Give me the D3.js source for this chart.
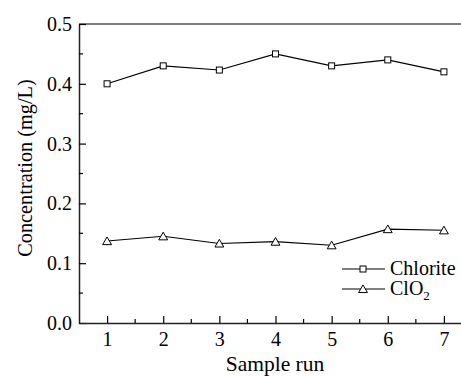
<!DOCTYPE html>
<html>
<head>
<meta charset="utf-8">
<script src="https://cdn.jsdelivr.net/npm/d3@7"></script>
<style>
  body { margin: 0; background: #fff; }
  svg, svg text { font-family: "Liberation Serif", "Times New Roman", Times, "DejaVu Serif", serif !important; }
</style>
</head>
<body>
<div id="chart"></div>
<script>
const runs = [1, 2, 3, 4, 5, 6, 7];
const chlorite = [0.400, 0.430, 0.423, 0.450, 0.430, 0.440, 0.420];
const clo2 = [0.137, 0.145, 0.133, 0.136, 0.130, 0.157, 0.155];
const yTicks = [0.0, 0.1, 0.2, 0.3, 0.4, 0.5];
const yMinor = [0.05, 0.15, 0.25, 0.35, 0.45];
const xMinor = [1.5, 2.5, 3.5, 4.5, 5.5, 6.5];

const width = 461, height = 376;
const margin = { left: 79, top: 24, bottom: 53 };
const plotRight = 472; // the plot runs past the cropped right edge

const svg = d3.select("#chart")
    .append("svg")
    .attr("width", width)
    .attr("height", height);

const x = d3.scaleLinear().domain([0.5, 7.5]).range([margin.left, plotRight]);
const y = d3.scaleLinear().domain([0, 0.5]).range([height - margin.bottom, margin.top]);

const fs = 20;

// top frame line
svg.append("line")
    .attr("x1", x(0.5)).attr("x2", x(7.5))
    .attr("y1", y(0.5)).attr("y2", y(0.5))
    .attr("stroke", "#000").attr("stroke-width", 1.2);

// y axis (ticks inward)
const yAxis = svg.append("g")
    .attr("transform", `translate(${x(0.5)},0)`)
    .call(d3.axisLeft(y).tickValues(yTicks).tickFormat(d3.format(".1f")).tickSizeInner(-7).tickSizeOuter(0).tickPadding(7));
yAxis.attr("font-family", null);
yAxis.selectAll(".tick text").attr("font-size", fs).attr("fill", "#000");
yAxis.select(".domain").attr("stroke", "#222").attr("stroke-width", 1.5);
yAxis.selectAll(".tick line").attr("stroke-width", 1.2);
yAxis.selectAll(".minor")
    .data(yMinor)
    .join("line")
    .attr("x1", 0).attr("x2", 4)
    .attr("y1", d => y(d)).attr("y2", d => y(d))
    .attr("stroke", "#000").attr("stroke-width", 1.2);

// x axis (ticks inward)
const xAxis = svg.append("g")
    .attr("transform", `translate(0,${y(0)})`)
    .call(d3.axisBottom(x).tickValues(runs).tickFormat(d3.format("d")).tickSizeInner(-7).tickSizeOuter(0).tickPadding(9));
xAxis.attr("font-family", null);
xAxis.selectAll(".tick text").attr("font-size", fs).attr("fill", "#000");
xAxis.select(".domain").attr("stroke", "#222").attr("stroke-width", 1.5);
xAxis.selectAll(".tick line").attr("stroke-width", 1.2);
xAxis.selectAll(".minor")
    .data(xMinor)
    .join("line")
    .attr("x1", d => x(d)).attr("x2", d => x(d))
    .attr("y1", 0).attr("y2", -4)
    .attr("stroke", "#000").attr("stroke-width", 1.2);

// axis titles
svg.append("text")
    .attr("x", 275).attr("y", 371)
    .attr("text-anchor", "middle")
    .attr("font-size", 21.5)
    .text("Sample run");

svg.append("text")
    .attr("transform", `translate(32,${168}) rotate(-90)`)
    .attr("text-anchor", "middle")
    .attr("font-size", 20.3)
    .text("Concentration (mg/L)");

// series
const line = d3.line().x((d, i) => x(runs[i])).y(d => y(d));
const triangle = d3.symbol().type(d3.symbolTriangle).size(34);

function drawSeries(values, marker) {
    svg.append("path")
        .datum(values)
        .attr("d", line)
        .attr("fill", "none")
        .attr("stroke", "#000")
        .attr("stroke-width", 1.1);
    const pts = svg.append("g").selectAll("g")
        .data(values)
        .join("g")
        .attr("transform", (d, i) => `translate(${x(runs[i])},${y(d)})`);
    marker(pts);
}

function squareMarker(sel) {
    sel.append("rect")
        .attr("x", -3).attr("y", -3)
        .attr("width", 6).attr("height", 6)
        .attr("fill", "#fff").attr("stroke", "#000").attr("stroke-width", 1);
}
function triangleMarker(sel) {
    sel.append("path")
        .attr("d", triangle)
        .attr("transform", "translate(0,1)")
        .attr("fill", "#fff").attr("stroke", "#000").attr("stroke-width", 1);
}

drawSeries(chlorite, squareMarker);
drawSeries(clo2, triangleMarker);

// legend
const legend = [
    { label: "Chlorite", marker: squareMarker, y: 269 },
    { label: "ClO2", marker: triangleMarker, y: 289 }
];
legend.forEach(item => {
    const g = svg.append("g");
    g.append("line")
        .attr("x1", 342).attr("x2", 385)
        .attr("y1", item.y).attr("y2", item.y)
        .attr("stroke", "#000").attr("stroke-width", 1.1);
    const m = g.append("g").attr("transform", `translate(363,${item.y})`);
    item.marker(m);
    const t = g.append("text")
        .attr("x", 390).attr("y", item.y + 6)
        .attr("font-size", fs);
    if (item.label === "ClO2") {
        t.append("tspan").text("ClO");
        t.append("tspan").attr("font-size", 13).attr("dy", 5).text("2");
    } else {
        t.text(item.label);
    }
});
</script>
</body>
</html>
